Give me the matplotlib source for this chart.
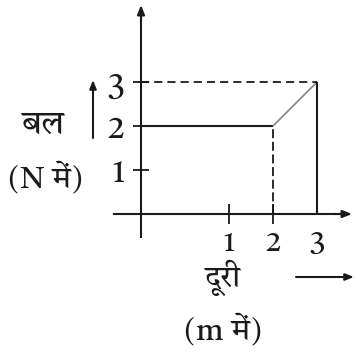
import matplotlib
matplotlib.use("Agg")
import matplotlib.pyplot as plt

# ---- data ----
distance = [2, 3]          # m, kink points of the force curve
force = [2, 3]             # N
xtick_vals = [1, 2, 3]
xtick_labels = ["1", "2", "3"]
ytick_vals = [1, 2, 3]
ytick_labels = ["1", "2", "3"]
ylabel_top = "बल"
ylabel_unit = "(N में)"
xlabel_top = "दूरी"
xlabel_unit = "(m में)"

# ---- layout ----
W, H = 355, 356
FONT = ["Tiro Devanagari Hindi", "FreeSerif", "DejaVu Serif"]
AXIS_X = -1.0          # where the force axis crosses the distance axis
X0PX, UPX, Y0PX = 185.0, 44.0, 214.0   # pixel of x=0, px per unit, pixel of y=0
INK = "#1a1a1a"

fig = plt.figure(figsize=(W / 100, H / 100), dpi=100)
ax = fig.add_axes([0, 0, 1, 1])
ax.set_xlim(-X0PX / UPX, (W - X0PX) / UPX)
ax.set_ylim(-(H - Y0PX) / UPX, Y0PX / UPX)
ax.patch.set_visible(False)

def fx(px):
    return px / W

def fy(py):
    return 1 - py / H

LW = 1.5
# axes (spines)
for s in ["top", "right"]:
    ax.spines[s].set_visible(False)
ax.spines["left"].set_position(("data", AXIS_X))
ax.spines["bottom"].set_position(("data", 0))
y_top = (Y0PX - 5) / UPX
y_bot = (Y0PX - 237) / UPX
x_left = (114 - X0PX) / UPX
x_right = (352 - X0PX) / UPX
ax.spines["left"].set_bounds(y_bot, y_top - 0.1)
ax.spines["bottom"].set_bounds(x_left, x_right - 0.1)
for s in ["left", "bottom"]:
    ax.spines[s].set_linewidth(LW)
    ax.spines[s].set_color(INK)
ax.annotate("", xy=(AXIS_X, y_top), xytext=(AXIS_X, y_top - 0.4),
            arrowprops=dict(arrowstyle="-|>,head_length=0.55,head_width=0.22",
                            lw=LW, color=INK, shrinkA=0, shrinkB=0))
ax.annotate("", xy=(x_right, 0), xytext=(x_right - 0.4, 0),
            arrowprops=dict(arrowstyle="-|>,head_length=0.55,head_width=0.22",
                            lw=LW, color=INK, shrinkA=0, shrinkB=0))

# ticks
ax.set_xticks(xtick_vals)
ax.set_xticklabels(xtick_labels)
ax.set_yticks(ytick_vals)
ax.set_yticklabels(ytick_labels)
ax.tick_params(axis="x", direction="inout", length=14, width=1.3, pad=4,
               labelsize=21, colors=INK)
ax.tick_params(axis="y", direction="inout", length=12, width=1.3, pad=6,
               labelsize=23, colors=INK)
for lab in ax.get_xticklabels() + ax.get_yticklabels():
    lab.set_family(FONT)
ax.xaxis.get_major_ticks()[2].tick1line.set_visible(False)

# force curve
ax.hlines(force[0], AXIS_X, distance[0], color=INK, lw=LW)
ax.plot(distance, force, color="#8a8a8a", lw=1.3, solid_capstyle="butt")
ax.vlines(distance[1], 0, force[1], color=INK, lw=LW)
ax.plot([distance[0], distance[0]], [0, force[0]], color=INK, lw=1.3,
        dashes=(5, 2))
ax.plot([AXIS_X, distance[1]], [force[1], force[1]], color=INK, lw=1.3,
        dashes=(4.5, 2.8))

# labels
TS = 22
fig.text(fx(43), fy(126), ylabel_top, family=FONT, fontsize=24,
         ha="center", va="center", color=INK)
fig.text(fx(45), fy(178), ylabel_unit, family=FONT, fontsize=TS,
         ha="center", va="center", color=INK)
fig.text(fx(223), fy(278), xlabel_top, family=FONT, fontsize=TS,
         ha="center", va="center", color=INK)
fig.text(fx(223), fy(330), xlabel_unit, family=FONT, fontsize=TS,
         ha="center", va="center", color=INK)

# direction arrows next to the labels
ax.annotate("", xy=(fx(93), fy(80)), xytext=(fx(93), fy(138)),
            xycoords="figure fraction", textcoords="figure fraction",
            arrowprops=dict(arrowstyle="-|>,head_length=0.5,head_width=0.2",
                            lw=1.5, color=INK, shrinkA=0, shrinkB=0))
ax.annotate("", xy=(fx(354), fy(277)), xytext=(fx(296), fy(277)),
            xycoords="figure fraction", textcoords="figure fraction",
            arrowprops=dict(arrowstyle="-|>,head_length=0.5,head_width=0.2",
                            lw=1.5, color=INK, shrinkA=0, shrinkB=0))

fig.savefig("out.png", dpi=100)
